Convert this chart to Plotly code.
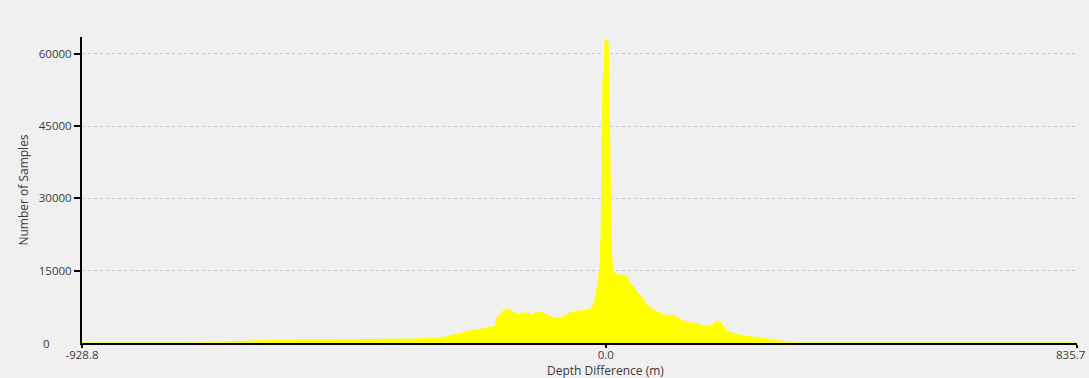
import plotly.graph_objects as go

# Depth difference (m) sample positions and number of samples
depth_diff = [-928.8, -719.5, -630.8, -542.1, -329.3, -293.9, -270.8, -240.7, -210.5, -196.3,
              -192.8, -182.1, -173.3, -166.2, -157.3, -148.4, -139.6, -130.7, -121.8, -113.0,
              -102.3, -89.9, -75.7, -63.3, -45.6, -33.2, -22.5, -17.2, -13.7, -10.1,
              -8.3, -6.6, -4.8, -3.0, -1.2, 2.3, 4.1, 5.9, 7.6, 9.4,
              11.2, 12.9, 20.0, 28.9, 37.8, 43.1, 50.2, 55.5, 64.4, 73.2,
              83.9, 96.3, 108.7, 119.4, 137.1, 154.8, 167.2, 181.4, 190.3, 197.4,
              202.7, 209.8, 216.9, 238.2, 264.8, 291.4, 309.1, 326.8, 344.6, 835.7]
num_samples = [0, 0, 415, 623, 830, 1040, 1660, 2490, 3110, 3530,
               5190, 6640, 7060, 6640, 5810, 6230, 6230, 5810, 6440, 6440,
               5610, 5190, 5400, 6230, 6640, 6850, 7470, 9960, 12460, 16190,
               22420, 36950, 55010, 55640, 62900, 62900, 62490, 50450, 29690, 21380,
               16820, 14740, 14120, 14120, 13700, 12460, 11630, 10380, 9550, 7890,
               6850, 6230, 5610, 5810, 4570, 4150, 3740, 3320, 3940, 4570,
               4360, 3320, 2280, 1660, 1250, 830, 415, 100, 0, 0]

x_tick_vals = [-928.8, 0.0, 835.7]
x_tick_text = ["-928.8", "0.0", ""]
y_tick_vals = [15000, 30000, 45000, 60000]
y_tick_text = ["15000", "30000", "45000", "60000"]

font_family = "Open Sans, Noto Sans, sans-serif"
text_color = "#3a3a3a"
bg = "#f0f0f0"
tick_size = 11.5
title_size = 12

fig = go.Figure()
fig.add_trace(go.Scatter(
    x=depth_diff, y=num_samples, mode="lines",
    fill="tozeroy", fillcolor="#ffff00",
    line=dict(color="#ffff00", width=1),
    hoverinfo="x+y", showlegend=False,
))

fig.update_layout(
    width=1089, height=378,
    margin=dict(l=82, r=12, t=37, b=35, autoexpand=False),
    paper_bgcolor=bg, plot_bgcolor=bg,
    font=dict(family=font_family, size=tick_size, color=text_color),
    xaxis=dict(
        range=[-928.8, 835.7], tickmode="array", tickvals=x_tick_vals, ticktext=x_tick_text,
        showgrid=False, zeroline=False, showline=True, linecolor="black", linewidth=2,
        ticks="outside", ticklen=3, tickwidth=2, tickcolor="black", ticklabelstandoff=-3,
        tickfont=dict(size=tick_size), ticklabeloverflow="allow", automargin=False,
    ),
    yaxis=dict(
        range=[0, 63500], tickmode="array", tickvals=y_tick_vals, ticktext=y_tick_text,
        showgrid=True, gridcolor="#c8c8c8", griddash="dot", gridwidth=1,
        zeroline=False, showline=True, linecolor="black", linewidth=2,
        ticks="outside", ticklen=6, tickwidth=2, tickcolor="black",
        title=dict(text="Number of Samples", standoff=8, font=dict(size=title_size)),
        tickfont=dict(size=tick_size), automargin=False,
    ),
    annotations=[
        dict(text="0", xref="paper", yref="y", x=-0.036, y=0, xanchor="center", yanchor="middle",
             showarrow=False, font=dict(size=tick_size, color=text_color)),
        dict(text="835.7", xref="paper", yref="paper", x=0.993, y=0, xanchor="center", yanchor="top",
             yshift=-2, showarrow=False, font=dict(size=tick_size, color=text_color)),
        dict(text="Depth Difference (m)", xref="x", yref="paper", x=0.0, y=-0.091,
             xanchor="center", yanchor="middle", showarrow=False, borderpad=0,
             font=dict(size=title_size, color=text_color)),
    ],
)

fig.write_html(
    "out.html",
    config={"displayModeBar": False},
    post_script="document.body.style.margin='0';document.body.style.background='%s';" % bg,
)
